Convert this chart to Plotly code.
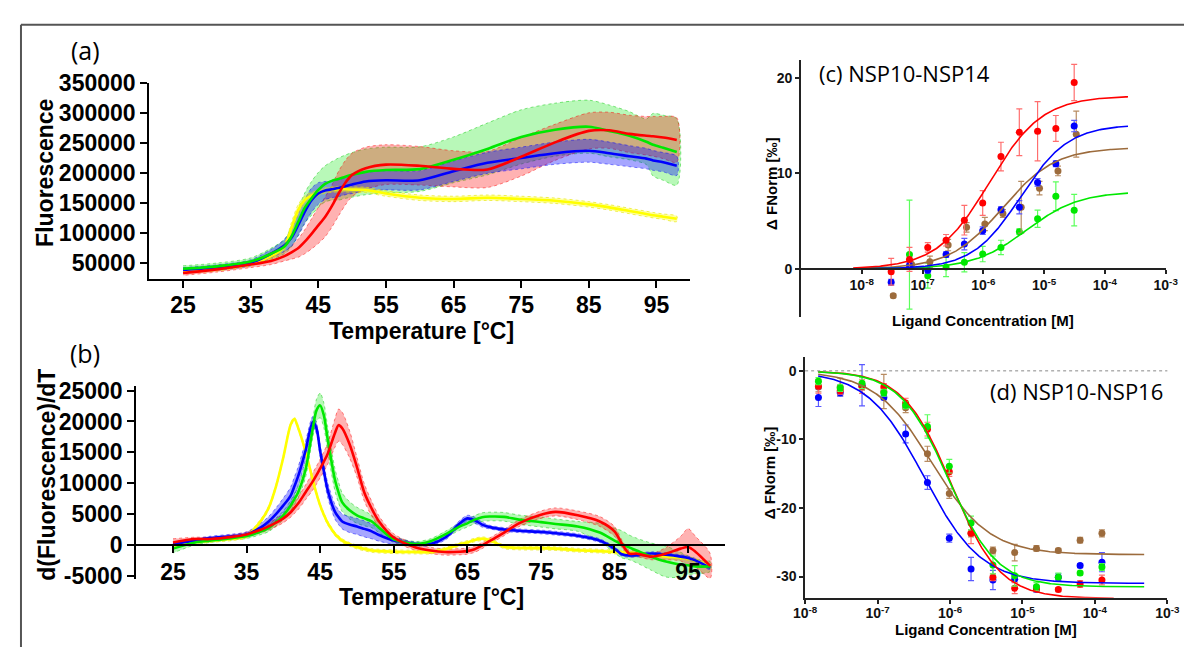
import numpy as np
import plotly.graph_objects as go

# The page body keeps its default 8 px margin, so the figure is drawn 8 px in
# from the window's corner; it is sized to fill the rest of the 1197x657 window.
OFF = 8
W, H = 1197 - OFF, 657 - OFF


def px(x):
    return (x - OFF) / W


def py(y):
    return 1 - (y - OFF) / H


# ---------------- Panel (a): melting curves ----------------
temp_a = [25, 30, 35, 38, 40, 41, 42, 43, 44, 45, 46, 47, 48, 49, 50, 52, 55, 60, 65, 70,
          75, 80, 85, 88, 91, 93.5, 94.5, 96, 98]
yellow_a = [37000, 41000, 50000, 62000, 78000, 108000, 138000, 155000, 163000, 167000, 171000,
            172500, 173000, 173000, 172500, 172000, 166000, 159000, 157000, 159000, 157000,
            154000, 148000, 143000, 137000, 132000, 130000, 127500, 124000]
yellow_a_sd = [3500, 3500, 4000, 5000, 6000, 9000, 9000, 7000, 5000, 4500, 4500, 4500, 4500, 4500,
               4500, 4500, 4500, 4500, 4500, 4500, 4500, 4500, 4500, 4500, 4500, 4500, 4500, 4500, 4500]
blue_a = [39000, 43000, 51000, 66000, 80000, 92000, 113000, 136000, 155000, 166000, 171000, 173000,
          175000, 178000, 181000, 186000, 188000, 188000, 203000, 217000, 225000, 233000, 237000,
          233000, 228000, 224000, 221000, 218000, 212000]
blue_a_sd = [4000, 4500, 5000, 7000, 10000, 14000, 18000, 20000, 20000, 18000, 15000, 14000, 14000,
             14000, 15000, 15000, 16000, 16000, 17000, 17500, 18000, 18500, 19000, 18500, 17500,
             17000, 16500, 16000, 16000]
green_a = [41000, 45000, 53000, 66000, 78000, 94000, 118000, 142000, 158000, 172000, 182000, 187000,
           190000, 194000, 197000, 202000, 205000, 206500, 222000, 240000, 260000, 272000, 277000,
           270000, 262000, 252000, 247000, 242000, 235000]
green_a_sd = [5000, 5500, 6000, 9000, 12000, 17000, 22000, 25000, 28000, 29000, 30000, 32000, 35000,
              36000, 37000, 38000, 38000, 37000, 38000, 43000, 45000, 44000, 44000, 43000, 40000,
              38000, 52000, 54000, 55000]
red_a = [34000, 40000, 48000, 54000, 62000, 68000, 75000, 86000, 99000, 113000, 127000, 145000,
         166000, 184000, 197000, 208000, 214000, 212000, 207000, 206000, 227000, 251000, 270000,
         271000, 265000, 262000, 261000, 259000, 255000]
red_a_sd = [4000, 4500, 5000, 6000, 8000, 11000, 15000, 20000, 25000, 30000, 33000, 35000, 37000,
            37000, 36000, 35000, 33000, 32000, 30000, 30000, 32000, 30000, 30000, 30000, 31000,
            32000, 33000, 35000, 37000]

# ---------------- Panel (b): first derivative ----------------
temp_b = [25, 28, 30, 33, 35, 37, 38, 39, 40, 41, 41.5, 42, 43, 44, 44.5, 45, 45.5, 46, 47, 47.5,
          48, 49, 50, 51, 52, 53, 55, 58, 60, 62, 64, 65, 66, 67, 68, 70, 72, 75, 77, 80,
          83, 85, 86, 87, 88, 90, 92, 94, 95, 96, 98]
yellow_b = [-100, 500, 700, 1000, 1450, 4000, 6000, 9500, 14200, 19500, 20400, 19000, 15200, 10500,
            8300, 6400, 4900, 3600, 1800, 1200, 700, 100, -350, -650, -900, -1000, -1100, -1150,
            -1150, -700, 100, 400, 800, 1000, 800, -300, -500, -520, -600, -850, -1000, -1150,
            -1200, -1300, -1400, -1650, -1850, -2050, -2200, -2500, -3500]
yellow_b_sd = [300] * len(temp_b)
blue_b = [150, 700, 1100, 1400, 1700, 2900, 3800, 5000, 6400, 8000, 9500, 11100, 15200, 19900,
          18900, 15200, 12000, 9000, 5400, 4500, 3800, 3300, 3000, 2600, 2200, 1600, 700, 150, 150,
          1200, 3500, 4300, 4000, 3300, 2900, 2500, 2300, 2100, 1900, 1500, 700, -600, -1500,
          -1700, -1650, -1400, -1600, -1900, -2100, -2500, -3700]
blue_b_sd = [200, 300, 300, 350, 400, 700, 800, 1000, 1200, 1400, 1500, 1500, 1500, 900, 900, 1000,
             1100, 1200, 1200, 1200, 1200, 1300, 1300, 1300, 1200, 1000, 600, 300, 300, 400, 500,
             500, 500, 400, 300, 300, 300, 300, 300, 300, 300, 300, 300, 300, 300, 300, 300, 300,
             300, 300, 300]
green_b = [-600, 400, 700, 1100, 1450, 2200, 2750, 3700, 4800, 6400, 7400, 8500, 12100, 18900,
           21800, 22600, 21000, 17300, 10600, 8500, 6900, 5600, 4800, 4300, 3800, 2800, 900, 150,
           600, 1700, 3000, 3500, 4100, 4500, 4600, 4550, 4100, 3700, 3400, 3000, 2000, 700, 100,
           -400, -900, -1900, -2700, -3200, -3300, -3500, -3500]
green_b_sd = [700, 400, 300, 300, 400, 500, 600, 650, 700, 800, 900, 1000, 1200, 1500, 1800, 2000,
              2000, 2000, 1800, 1700, 1500, 1400, 1300, 1200, 1000, 800, 500, 400, 400, 500, 600,
              600, 650, 700, 700, 700, 750, 800, 800, 800, 1500, 2000, 2200, 2000, 2000, 2200,
              2500, 2000, 1500, 1200, 800]
red_b = [400, 950, 950, 1300, 1700, 2500, 3000, 3600, 4300, 5300, 6000, 6700, 8500, 10300, 11300,
         12400, 13500, 14700, 18100, 19400, 18900, 16300, 12600, 8500, 5900, 3800, 1200, -400,
         -900, -1150, -1100, -1000, -700, -100, 600, 2000, 3500, 4900, 5350, 4800, 3800, 2200,
         200, -1400, -1400, -1900, -1400, -600, -350, -1100, -3400]
red_b_sd = [600, 300, 300, 350, 400, 500, 600, 650, 700, 800, 900, 1000, 1200, 1400, 1450, 1500,
            1600, 1700, 2300, 2600, 2600, 2200, 1600, 1400, 1200, 900, 600, 500, 500, 500, 500,
            500, 500, 500, 500, 500, 550, 600, 650, 700, 800, 800, 600, 500, 500, 500, 1000, 2000,
            3000, 2500, 2000]

temp_ticks = [25, 35, 45, 55, 65, 75, 85, 95]
fluor_ticks = [50000, 100000, 150000, 200000, 250000, 300000, 350000]
deriv_ticks = [-5000, 0, 5000, 10000, 15000, 20000, 25000]

# ---------------- Panel (c): NSP10-NSP14 MST ----------------
conc_c = [3.05e-8, 6.1e-8, 1.22e-7, 2.44e-7, 4.88e-7, 9.77e-7, 1.95e-6, 3.91e-6, 7.81e-6,
          1.56e-5, 3.125e-5]
conc_c_brown = [3.3e-8, 6.6e-8, 1.32e-7, 2.64e-7, 5.3e-7, 1.06e-6, 2.1e-6, 4.2e-6, 8.4e-6,
                1.69e-5, 3.38e-5]
red_c = [-0.3, 1.0, 2.25, 3.0, 5.1, 6.9, 11.75, 14.3, 14.4, 14.7, 19.5]
red_c_err = [1.4, 1.25, 0.5, 0.6, 1.55, 1.3, 1.5, 2.45, 3.1, 1.35, 1.9]
blue_c = [-1.4, 0.35, -0.15, 1.5, 2.6, 4.0, 6.2, 6.45, 9.05, 11.0, 14.95]
blue_c_err = [0.3, 0.3, 0.3, 0.3, 0.6, 0.4, 0.3, 0.7, 0.4, 0.3, 0.6]
brown_c = [-2.8, 0.5, 0.75, 2.5, 4.35, 4.7, 5.8, 6.45, 8.45, 10.25, 14.1]
brown_c_err = [0.2, 0.5, 0.6, 0.6, 0.5, 0.7, 0.4, 2.7, 0.7, 0.5, 2.4]
green_c = [None, 1.5, -0.7, 0.2, 0.7, 1.55, 2.25, 3.9, 5.25, 7.6, 6.15]
green_c_err = [0, 5.7, 1.3, 1.0, 1.0, 0.8, 0.75, 0.3, 0.9, 1.5, 1.65]
# fitted binding curves: plateau, EC50 [M], Hill slope
fit_c = {
    "red": (18.1, 1.26e-6, 1.0),
    "blue": (15.1, 4.1e-6, 1.1),
    "brown": (12.7, 2.05e-6, 1.0),
    "green": (8.1, 5.1e-6, 1.0),
}
fit_c_span = (-8.14, -3.62)

# ---------------- Panel (d): NSP10-NSP16 MST ----------------
conc_d = [1.526e-8, 3.05e-8, 6.1e-8, 1.22e-7, 2.44e-7, 4.88e-7, 9.77e-7, 1.95e-6, 3.91e-6,
          7.81e-6, 1.56e-5, 3.125e-5, 6.25e-5, 1.25e-4]
blue_d = [-3.9, -3.2, -2.1, -3.9, -9.2, -16.3, -24.4, -28.9, -30.5, -30.4, -31.8, -30.1, -28.4, -27.9]
blue_d_err = [1.3, 0.5, 3.0, 0.3, 1.3, 1.0, 0.6, 1.7, 1.4, 0.4, 0.5, 0.5, 0.3, 1.4]
red_d = [-2.25, -2.9, -2.3, -2.35, -4.7, -8.5, -14.7, -23.7, -30.1, -31.7, -31.8, -31.9, -31.1, -30.5]
red_d_err = [1.0, 0.5, 1.0, 0.5, 0.7, 1.0, 0.7, 1.5, 0.5, 0.8, 0.4, 0.3, 0.5, 0.7]
green_d = [-1.5, -2.5, -1.8, -3.2, -5.0, -8.1, -13.9, -22.2, -28.3, -29.9, -31.5, -30.1, -29.5, -28.6]
green_d_err = [0.5, 0.5, 0.8, 0.5, 0.5, 1.7, 1.0, 1.0, 1.3, 1.5, 0.6, 0.6, 0.3, 0.5]
brown_d = [-2.35, -2.35, -2.3, -3.0, -5.4, -12.1, -17.9, -23.7, -26.2, -26.5, -25.9, -26.2, -24.7, -23.7]
brown_d_err = [0.7, 1.3, 0.5, 2.5, 0.7, 1.1, 0.7, 0.5, 0.5, 1.2, 0.4, 0.3, 0.4, 0.5]
fit_d = {
    "blue": (-31.0, 4.4e-7, 1.1, -3.32),
    "brown": (-26.8, 5.6e-7, 1.1, -3.32),
    "red": (-33.2, 1.05e-6, 1.3, -3.74),
    "green": (-31.5, 9.5e-7, 1.3, -3.32),
}
fit_d_start = -7.82

log_ticks = [1e-8, 1e-7, 1e-6, 1e-5, 1e-4, 1e-3]
log_ticktext = ["10<sup>-8</sup>", "10<sup>-7</sup>", "10<sup>-6</sup>", "10<sup>-5</sup>",
                "10<sup>-4</sup>", "10<sup>-3</sup>"]

# ---------------- styling ----------------
LINE = {"yellow": "#ffff00", "blue": "#0000ff", "green": "#00e800", "red": "#ff0000",
        "brown": "#9c6b3c"}
FILL = {"yellow": "rgba(255,255,0,0.35)", "blue": "rgba(0,0,255,0.35)",
        "green": "rgba(0,230,0,0.28)", "red": "rgba(255,0,0,0.30)"}
EDGE = {"yellow": "rgba(230,230,0,0.8)", "blue": "rgba(0,0,255,0.6)",
        "green": "rgba(0,200,0,0.6)", "red": "rgba(255,0,0,0.6)"}
ERR = {"red": "#ff6e6e", "blue": "#5a5aff", "green": "#5cff5c", "brown": "#b88c62"}

BOLD = "Liberation Sans, Arial, sans-serif"
REG = "Open Sans, Noto Sans, sans-serif"

fig = go.Figure()


def add_band(xs, mean, sd, name, xa, ya):
    upper = [m + s for m, s in zip(mean, sd)]
    lower = [m - s for m, s in zip(mean, sd)]
    fig.add_trace(go.Scatter(
        x=list(xs) + list(xs)[::-1], y=upper + lower[::-1], fill="toself",
        fillcolor=FILL[name], mode="lines",
        line=dict(color=EDGE[name], width=0.8, dash="dot", shape="spline", smoothing=0.8),
        xaxis=xa, yaxis=ya, hoverinfo="skip", showlegend=False))


def add_line(xs, mean, name, xa, ya, width=2.6):
    fig.add_trace(go.Scatter(
        x=xs, y=mean, mode="lines",
        line=dict(color=LINE[name], width=width, shape="spline", smoothing=0.8),
        xaxis=xa, yaxis=ya, showlegend=False))


band_order = ["green", "red", "blue", "yellow"]
line_order = ["yellow", "blue", "green", "red"]
a_data = {"yellow": (yellow_a, yellow_a_sd), "blue": (blue_a, blue_a_sd),
          "green": (green_a, green_a_sd), "red": (red_a, red_a_sd)}
b_data = {"yellow": (yellow_b, yellow_b_sd), "blue": (blue_b, blue_b_sd),
          "green": (green_b, green_b_sd), "red": (red_b, red_b_sd)}

for nm in band_order:
    add_band(temp_a, a_data[nm][0], a_data[nm][1], nm, "x", "y")
for nm in line_order:
    add_line(temp_a, a_data[nm][0], nm, "x", "y")

for nm in band_order:
    add_band(temp_b, b_data[nm][0], b_data[nm][1], nm, "x2", "y2")
for nm in line_order:
    add_line(temp_b, b_data[nm][0], nm, "x2", "y2")

# Panel (c)
c_points = [("green", conc_c, green_c, green_c_err), ("brown", conc_c_brown, brown_c, brown_c_err),
            ("blue", conc_c, blue_c, blue_c_err), ("red", conc_c, red_c, red_c_err)]
for nm, xs, ys, es in c_points:
    fig.add_trace(go.Scatter(
        x=xs, y=ys, mode="markers", marker=dict(color=LINE[nm], size=7),
        error_y=dict(type="data", array=es, visible=True, color=ERR[nm], thickness=1.2, width=3),
        xaxis="x3", yaxis="y3", showlegend=False))
xfit_c = np.logspace(fit_c_span[0], fit_c_span[1], 250)
for nm in ["brown", "green", "blue", "red"]:
    top, ec50, n = fit_c[nm]
    yfit = top * xfit_c ** n / (ec50 ** n + xfit_c ** n)
    fig.add_trace(go.Scatter(x=xfit_c, y=yfit, mode="lines", line=dict(color=LINE[nm], width=1.6),
                             xaxis="x3", yaxis="y3", showlegend=False))

# Panel (d)
d_points = [("brown", brown_d, brown_d_err), ("blue", blue_d, blue_d_err),
            ("red", red_d, red_d_err), ("green", green_d, green_d_err)]
for nm, ys, es in d_points:
    fig.add_trace(go.Scatter(
        x=conc_d, y=ys, mode="markers", marker=dict(color=LINE[nm], size=7),
        error_y=dict(type="data", array=es, visible=True, color=ERR[nm], thickness=1.2, width=3),
        xaxis="x4", yaxis="y4", showlegend=False))
for nm in ["blue", "brown", "red", "green"]:
    bottom, ic50, n, end = fit_d[nm]
    xfit = np.logspace(fit_d_start, end, 250)
    yfit = bottom * xfit ** n / (ic50 ** n + xfit ** n)
    fig.add_trace(go.Scatter(x=xfit, y=yfit, mode="lines", line=dict(color=LINE[nm], width=1.6),
                             xaxis="x4", yaxis="y4", showlegend=False))


def big_axis(**kw):
    d = dict(showline=True, linecolor="#000", linewidth=2, ticks="outside", ticklen=7,
             tickwidth=2, tickcolor="#000", showgrid=False, zeroline=False,
             tickfont=dict(family=BOLD, size=23, color="#000", weight="bold"))
    d.update(kw)
    return d


def small_axis(**kw):
    d = dict(showline=True, linecolor="#222", linewidth=1.6, ticks="outside", ticklen=4,
             tickwidth=1.6, tickcolor="#222", showgrid=False, zeroline=False,
             tickfont=dict(family=BOLD, size=14, color="#111", weight="bold"))
    d.update(kw)
    return d


fig.update_layout(
    width=W, height=H, autosize=False, margin=dict(l=0, r=0, t=0, b=0),
    paper_bgcolor="white", plot_bgcolor="rgba(0,0,0,0)", showlegend=False,
    xaxis=big_axis(domain=[px(140), px(692.7)], range=[20, 100], tickmode="array",
                   tickvals=temp_ticks, anchor="y", ticklabelstandoff=-2),
    yaxis=big_axis(domain=[py(275), py(72)], range=[24800, 350000], tickmode="array",
                   tickvals=fluor_ticks, ticktext=[str(v) for v in fluor_ticks], anchor="x"),
    xaxis2=big_axis(domain=[px(126.7), px(728)], range=[20, 100], tickmode="array",
                    tickvals=temp_ticks, anchor="free", position=py(551)),
    yaxis2=big_axis(domain=[py(586.7), py(386.7)], range=[-5550, 25700], tickmode="array",
                    tickvals=deriv_ticks, ticktext=[str(v) for v in deriv_ticks], anchor="x2"),
    xaxis3=small_axis(domain=[px(805.7), px(1178.3)], type="log", range=[-9, -3],
                      tickmode="array", tickvals=log_ticks, ticktext=log_ticktext,
                      anchor="free", position=py(265)),
    yaxis3=small_axis(domain=[py(315), py(48)], range=[-5.04, 21.9], tickmode="array",
                      tickvals=[0, 10, 20], ticktext=["0", "10", "20"], anchor="x3"),
    xaxis4=small_axis(domain=[px(810), px(1180)], type="log", range=[-8, -3],
                      tickmode="array", tickvals=log_ticks, ticktext=log_ticktext, anchor="y4",
                      ticklabelstandoff=-2),
    yaxis4=small_axis(domain=[py(606), py(356.7)], range=[-33.1, 1.97], tickmode="array",
                      tickvals=[0, -10, -20, -30], ticktext=["0", "-10", "-20", "-30"], anchor="x4"),
)

shapes = [
    dict(type="line", xref="paper", yref="paper", x0=px(9), x1=1, y0=py(12), y1=py(12),
         line=dict(color="#555", width=2)),
    dict(type="line", xref="paper", yref="paper", x0=px(9), x1=px(9), y0=py(12), y1=0,
         line=dict(color="#555", width=2)),
    dict(type="line", xref="x4 domain", yref="y4", x0=0, x1=1, y0=0, y1=0,
         line=dict(color="#888", width=1, dash="dot")),
]
fig.update_layout(shapes=shapes)


def ann(text, x, y, size, family, bold=True, angle=0, xanchor="center"):
    return dict(text=text, x=px(x), y=py(y), xref="paper", yref="paper", showarrow=False,
                textangle=angle, xanchor=xanchor, yanchor="middle", borderpad=0,
                font=dict(family=family, size=size, color="#000",
                          weight="bold" if bold else "normal"))


annotations = [
    ann("(a)", 75, 38, 25, REG, bold=False),
    ann("(b)", 74, 352, 25, REG, bold=False),
    ann("Fluorescence", 34, 165, 23, BOLD, angle=-90),
    ann("Temperature [°C]", 418, 329, 23, BOLD),
    ann("d(Fluorescence)/dT", 36, 478, 23, BOLD, angle=-90),
    ann("Temperature [°C]", 428, 605, 23, BOLD),
    ann("(c) NSP10-NSP14", 823, 62, 22, REG, bold=False, xanchor="left"),
    ann("Δ FNorm [‰]", 775, 177, 15, BOLD, angle=-90),
    ann("Ligand Concentration [M]", 992, 318, 15, BOLD),
    ann("(d) NSP10-NSP16", 1177, 392, 22, REG, bold=False, xanchor="right"),
    ann("Δ FNorm [‰]", 773, 477, 15, BOLD, angle=-90),
    ann("Ligand Concentration [M]", 995, 639, 15, BOLD),
]
fig.update_layout(annotations=annotations)

fig.write_html("out.html", config={"displayModeBar": False})
